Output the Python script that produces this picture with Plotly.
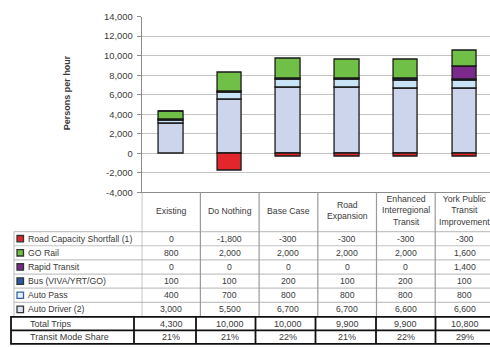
import plotly.graph_objects as go

# ---- data ----
scenarios = ["Existing", "Do Nothing", "Base Case", "Road Expansion",
             "Enhanced Interregional Transit", "York Public Transit Improvement"]
scenario_labels = ["Existing", "Do Nothing", "Base Case", "Road<br>Expansion",
                   "Enhanced<br>Interregional<br>Transit", "York Public<br>Transit<br>Improvement"]

road_shortfall = [0, -1800, -300, -300, -300, -300]
go_rail = [800, 2000, 2000, 2000, 2000, 1600]
rapid_transit = [0, 0, 0, 0, 0, 1400]
bus = [100, 100, 200, 100, 200, 100]
auto_pass = [400, 700, 800, 800, 800, 800]
auto_driver = [3000, 5500, 6700, 6700, 6600, 6600]

total_trips = [4300, 10000, 10000, 9900, 9900, 10800]
transit_share = ["21%", "21%", "22%", "21%", "22%", "29%"]

y_ticks = [-4000, -2000, 0, 2000, 4000, 6000, 8000, 10000, 12000, 14000]
y_tick_text = [f"{v:,}" for v in y_ticks]  # plain hyphen for negatives

# table rows listed top to bottom
table_rows = [
    ("Road Capacity Shortfall (1)", road_shortfall, "#e3262b", "#333333"),
    ("GO Rail", go_rail, "#70bf46", "#333333"),
    ("Rapid Transit", rapid_transit, "#7b2a8c", "#333333"),
    ("Bus (VIVA/YRT/GO)", bus, "#2a5aa6", "#333333"),
    ("Auto Pass", auto_pass, "#e4f2fb", "#3a62a0"),
    ("Auto Driver (2)", auto_driver, "#dfe5f4", "#333333"),
]
# stacking order, bottom up
stack = [
    ("Auto Driver (2)", auto_driver, "#ccd5ec"),
    ("Auto Pass", auto_pass, "#c8e4f5"),
    ("Bus (VIVA/YRT/GO)", bus, "#1f3f7a"),
    ("Rapid Transit", rapid_transit, "#7b2a8c"),
    ("GO Rail", go_rail, "#70bf46"),
    ("Road Capacity Shortfall (1)", road_shortfall, "#e3262b"),
]

W, H = 490, 347
PLOT_L, PLOT_T, PLOT_B = 141.7, 11.0, 192.5
COL_W = 58.7
FONT = "Liberation Sans, Arial, sans-serif"
TXT = "#3a3a3a"


def px(x):
    return x / W


def py(y):
    return 1 - y / H


xs = list(range(len(scenarios)))
fig = go.Figure()
for name, vals, color in stack:
    fig.add_trace(go.Bar(
        x=xs, y=vals, name=name, width=0.42,
        marker=dict(color=color, line=dict(color="#1a1a1a", width=1.3)),
        showlegend=False,
    ))

shapes = []
ann = []

# data table geometry
row_top = 233.0
row_h = 14.6
n_rows = len(table_rows)
table_bottom = row_top + row_h * n_rows

# horizontal row lines
for i in range(n_rows):
    yy = row_top + i * row_h
    shapes.append(dict(type="line", xref="paper", yref="paper",
                       x0=px(14), x1=1.0, y0=py(yy), y1=py(yy),
                       line=dict(color="#c4c4c4", width=1.2)))
# left border of label column
shapes.append(dict(type="line", xref="paper", yref="paper",
                   x0=px(14), x1=px(14), y0=py(row_top), y1=py(table_bottom),
                   line=dict(color="#c4c4c4", width=1.2)))
# column boundaries below the plot
for k in range(len(scenarios)):
    shapes.append(dict(type="line", xref="x", yref="paper",
                       x0=k - 0.5, x1=k - 0.5, y0=py(PLOT_B), y1=py(table_bottom),
                       line=dict(color="#9a9a9a", width=1.2)))

# legend keys and labels
for i, (name, vals, color, edge) in enumerate(table_rows):
    yc = row_top + row_h * (i + 0.5)
    shapes.append(dict(type="rect", xref="paper", yref="paper",
                       x0=px(17), x1=px(23.5), y0=py(yc - 3.3), y1=py(yc + 3.3),
                       fillcolor=color, line=dict(color=edge, width=1.3)))
    ann.append(dict(xref="paper", yref="paper", x=px(25.5), y=py(yc),
                    text=name, showarrow=False, xanchor="left", yanchor="middle",
                    font=dict(family=FONT, size=8.7, color=TXT)))
    for j, v in enumerate(vals):
        ann.append(dict(xref="x", yref="paper", x=j, y=py(yc),
                        text=f"{v:,}", showarrow=False, xanchor="center",
                        yanchor="middle", font=dict(family=FONT, size=8.7, color=TXT)))

# scenario headers
for j, lab in enumerate(scenario_labels):
    ann.append(dict(xref="x", yref="paper", x=j, y=py(211.5),
                    text=lab, showarrow=False, xanchor="center", yanchor="middle",
                    font=dict(family=FONT, size=8.7, color=TXT)))

# totals box
tot_top, tot_mid, tot_bot = 321.0, 335.0, 349.0
shapes.append(dict(type="rect", xref="paper", yref="paper",
                   x0=px(11), x1=px(W + 6), y0=py(tot_top), y1=py(tot_bot),
                   line=dict(color="#111111", width=1.8)))
shapes.append(dict(type="line", xref="paper", yref="paper",
                   x0=px(11), x1=1.0, y0=py(tot_mid), y1=py(tot_mid),
                   line=dict(color="#111111", width=1.8)))
for xv in [134, 196, 255.5, 315.5, 376, 435.5]:
    shapes.append(dict(type="line", xref="paper", yref="paper",
                       x0=px(xv), x1=px(xv), y0=py(tot_top), y1=py(tot_bot),
                       line=dict(color="#111111", width=1.8)))
for label, vals, yc in [("Total Trips", [f"{v:,}" for v in total_trips], 328.2),
                        ("Transit Mode Share", transit_share, 342.0)]:
    ann.append(dict(xref="paper", yref="paper", x=px(28), y=py(yc),
                    text=label, showarrow=False, xanchor="left", yanchor="middle",
                    font=dict(family=FONT, size=9, color=TXT)))
    for j, v in enumerate(vals):
        ann.append(dict(xref="x", yref="paper", x=j, y=py(yc),
                        text=v, showarrow=False, xanchor="center", yanchor="middle",
                        font=dict(family=FONT, size=9, color=TXT)))

# y-axis title
ann.append(dict(xref="paper", yref="paper", x=px(67), y=py(90),
                text="<b>Persons per hour</b>", textangle=-90, showarrow=False,
                xanchor="center", yanchor="middle",
                font=dict(family=FONT, size=9, color=TXT)))

fig.update_layout(
    width=W, height=H,
    margin=dict(l=0, r=0, t=0, b=0),
    paper_bgcolor="white", plot_bgcolor="white",
    barmode="relative", bargap=0,
    shapes=shapes, annotations=ann,
    xaxis=dict(domain=[px(PLOT_L), 1.0],
               range=[-0.5, -0.5 + (W - PLOT_L) / COL_W],
               showticklabels=False, showgrid=False, zeroline=False,
               showline=True, linecolor="#8c8c8c", linewidth=1.3, ticks=""),
    yaxis=dict(domain=[py(PLOT_B), py(PLOT_T)],
               range=[-4000, 14000], tickmode="array",
               tickvals=y_ticks, ticktext=y_tick_text,
               showgrid=True, gridcolor="#c4c4c4", gridwidth=1.4,
               zeroline=False, showline=True, linecolor="#8c8c8c", linewidth=1.3,
               ticks="outside", ticklen=4, tickcolor="#8c8c8c",
               ticklabelstandoff=2,
               tickfont=dict(family=FONT, size=9.4, color=TXT)),
)

fig.write_html("out.html")
